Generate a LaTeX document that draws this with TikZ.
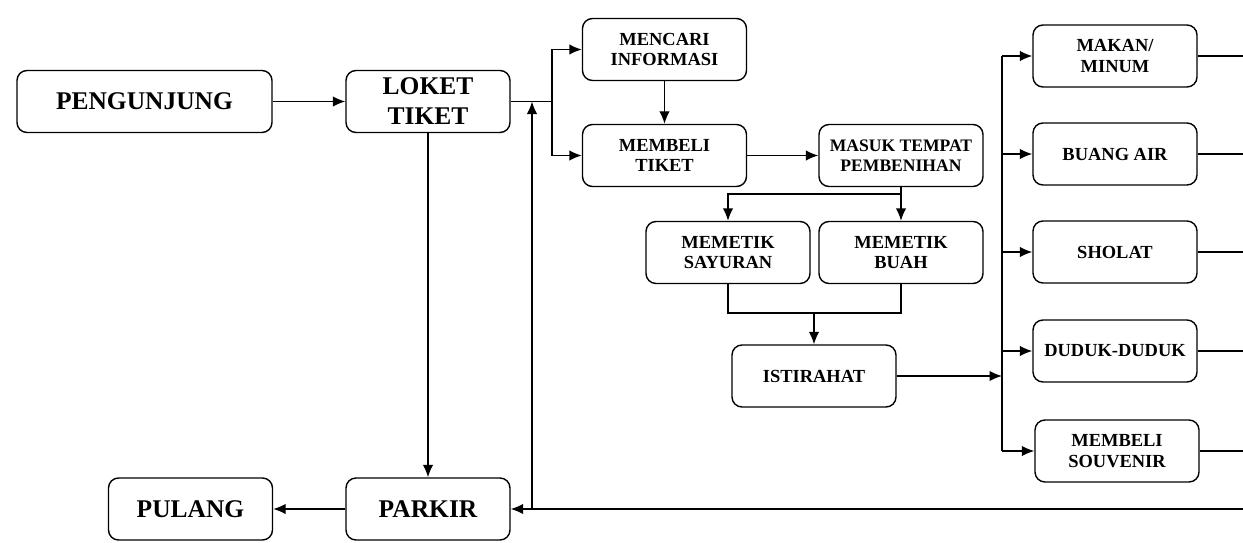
\documentclass[tikz,border=0pt]{standalone}
\usepackage{fontspec}
\setmainfont{Liberation Serif}
\usetikzlibrary{arrows.meta, positioning, calc}
\tikzset{>={Latex[length=2.5mm,width=2.1mm]}}
\tikzset{
  box/.style={draw, rounded corners=2mm, line width=0.8pt, align=center,
    minimum width=32.8mm, minimum height=12.4mm, inner sep=0.5pt,
    font=\bfseries\fontsize{10.5}{11.5}\selectfont},
  bigbox/.style={box, font=\bfseries\fontsize{14.5}{17}\selectfont},
  link/.style={line width=0.8pt},
}

\begin{document}
\begin{tikzpicture}[x=0.2mm, y=-0.2mm]
    \useasboundingbox (0,0) rectangle (1243,542);
    % main line
    \node[bigbox, minimum width=51mm] (pengunjung) at (144.5,101.5) {PENGUNJUNG};
    \node[bigbox] (loket) at (428,101.5) {LOKET\\TIKET};
    \node[bigbox] (parkir) at (428,509) {PARKIR};
    \node[bigbox] (pulang) at (190.5,509) {PULANG};
    % inside the garden
    \node[box] (mencari) at (664.5,49.5) {MENCARI\\INFORMASI};
    \node[box] (membeli) at (664.5,155.5) {MEMBELI\\TIKET};
    \node[box, font=\bfseries\fontsize{10}{11.5}\selectfont] (masuk) at (901,155.5) {MASUK TEMPAT\\PEMBENIHAN};
    \node[box] (sayuran) at (728,252.5) {MEMETIK\\SAYURAN};
    \node[box] (buah) at (901,252.5) {MEMETIK\\BUAH};
    \node[box] (istirahat) at (814,376) {ISTIRAHAT};
    % things to do while resting
    \node[box] (makan) at (1115,56) {MAKAN/\\MINUM};
    \node[box] (buang) at (1115,154) {BUANG AIR};
    \node[box] (sholat) at (1115,252) {SHOLAT};
    \node[box] (duduk) at (1115,351) {DUDUK-DUDUK};
    \node[box] (souvenir) at (1117,451) {MEMBELI\\SOUVENIR};

    \coordinate (split) at (552,101.5);
    \coordinate (rise) at (532,509);
    \coordinate (fork) at (901,194);
    \coordinate (merge) at (814,313);
    \coordinate (bus) at (1002,376);
    \coordinate (edge) at (1243,509);

    \path[->, link]
        (pengunjung) edge (loket)
        (loket)      edge (parkir)
        (parkir)     edge (pulang)
        (mencari)    edge (membeli)
        (membeli)    edge (masuk)
    ;
    \draw[link] (loket.east) -- (split);
    \draw[->, link] (split) |- (mencari.west);
    \draw[->, link] (split) |- (membeli.west);
    \draw[->, link] (rise) -- (rise |- loket.east);
    % picking, then resting
    \draw[link] (masuk.south) -- (fork);
    \draw[->, link] (fork) -| (sayuran.north);
    \draw[->, link] (fork) -- (buah.north);
    \draw[link] (sayuran.south) |- (merge) -| (buah.south);
    \draw[->, link] (merge) -- (istirahat.north);
    \draw[->, link] (istirahat.east) -- (bus);
    \draw[link] (bus |- makan.west) -- (bus |- souvenir.west);
    \foreach \n in {makan, buang, sholat, duduk, souvenir} {
        \draw[->, link] (bus |- \n.west) -- (\n.west);
        \draw[link] (\n.east) -- (\n.east -| edge);
    }
    \draw[->, link] (edge) -- (parkir.east);
\end{tikzpicture}
\end{document}
